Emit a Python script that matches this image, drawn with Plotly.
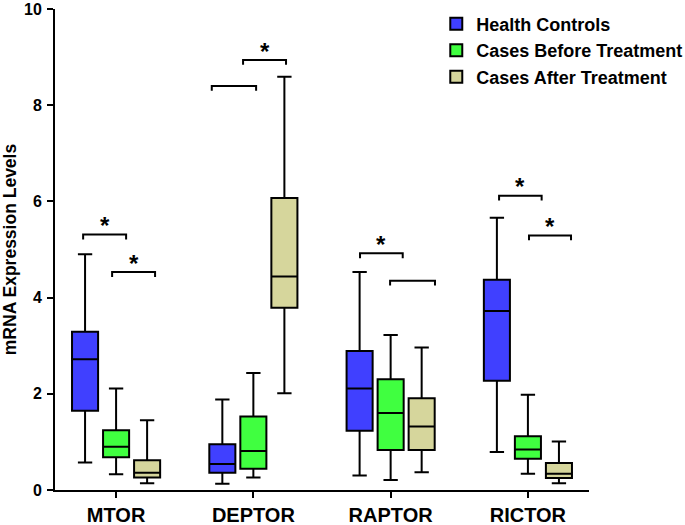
import plotly.graph_objects as go

categories = ["MTOR", "DEPTOR", "RAPTOR", "RICTOR"]
groups = ["Health Controls", "Cases Before Treatment", "Cases After Treatment"]

# per group: lower whisker, Q1, median, Q3, upper whisker (one value per category)
hc_low = [0.57, 0.13, 0.30, 0.79]
hc_q1 = [1.65, 0.36, 1.23, 2.27]
hc_med = [2.72, 0.54, 2.11, 3.72]
hc_q3 = [3.29, 0.95, 2.89, 4.37]
hc_high = [4.90, 1.88, 4.53, 5.66]

bt_low = [0.33, 0.26, 0.21, 0.34]
bt_q1 = [0.68, 0.44, 0.83, 0.65]
bt_med = [0.90, 0.81, 1.60, 0.84]
bt_q3 = [1.24, 1.53, 2.30, 1.12]
bt_high = [2.11, 2.43, 3.22, 1.98]

at_low = [0.14, 2.01, 0.37, 0.14]
at_q1 = [0.26, 3.79, 0.83, 0.25]
at_med = [0.36, 4.44, 1.32, 0.34]
at_q3 = [0.62, 6.07, 1.91, 0.56]
at_high = [1.45, 8.59, 2.96, 1.01]

# significance brackets: (x start, x end, height, label)
brackets = [
    (-0.240, 0.073, 5.31, "*"),
    (-0.029, 0.284, 4.53, "*"),
    (0.697, 1.020, 8.40, ""),
    (0.925, 1.238, 8.94, "*"),
    (1.777, 2.088, 4.92, "*"),
    (1.996, 2.323, 4.35, ""),
    (2.790, 3.100, 6.12, "*"),
    (3.008, 3.314, 5.29, "*"),
]

colors = ["#4040FF", "#40FF40", "#D6D69C"]
FONT = "Liberation Sans, Arial, sans-serif"

stats = [
    (hc_low, hc_q1, hc_med, hc_q3, hc_high),
    (bt_low, bt_q1, bt_med, bt_q3, bt_high),
    (at_low, at_q1, at_med, at_q3, at_high),
]

xpos = list(range(len(categories)))

fig = go.Figure()
for name, col, (lo, q1, med, q3, hi) in zip(groups, colors, stats):
    fig.add_trace(go.Box(
        name=name,
        x=xpos,
        lowerfence=lo, q1=q1, median=med, q3=q3, upperfence=hi,
        fillcolor=col,
        line=dict(color="black", width=2),
        whiskerwidth=0.55,
        boxpoints=False,
        hoverinfo="skip",
    ))

drop = 0.1
for x0, x1, yb, lab in brackets:
    fig.add_shape(
        type="path",
        xref="x", yref="y",
        path=f"M {x0} {yb - drop} L {x0} {yb} L {x1} {yb} L {x1} {yb - drop}",
        line=dict(color="black", width=2),
    )
    if lab:
        fig.add_annotation(
            x=(x0 + x1) / 2, y=yb + 0.18, xref="x", yref="y",
            text=lab, showarrow=False, yanchor="middle",
            font=dict(family=FONT, size=24, color="black", weight="bold"),
        )

fig.update_layout(
    width=685, height=525,
    margin=dict(l=55, r=96, t=9, b=35, autoexpand=False),
    paper_bgcolor="white", plot_bgcolor="white",
    boxmode="group", boxgap=0.322, boxgroupgap=0.16,
    font=dict(family=FONT, color="black"),
    showlegend=True,
    legend=dict(
        x=0.714, y=1.007, xanchor="left", yanchor="top",
        font=dict(family=FONT, size=18, color="black", weight="bold"),
        bgcolor="rgba(0,0,0,0)", traceorder="normal",
    ),
)

fig.update_xaxes(
    range=[-0.445, 3.445], automargin=False,
    tickmode="array", tickvals=xpos, ticktext=categories,
    showline=True, linecolor="black", linewidth=2,
    ticks="outside", ticklen=6, tickwidth=2, tickcolor="black",
    showgrid=False, zeroline=False, ticklabeloverflow="allow",
    tickfont=dict(family=FONT, size=20, color="black", weight="bold"),
)
fig.update_yaxes(
    range=[0, 10], automargin=False,
    tickmode="array", tickvals=[0, 2, 4, 6, 8, 10],
    showline=True, linecolor="black", linewidth=2,
    ticks="outside", ticklen=6, tickwidth=2, tickcolor="black",
    showgrid=False, zeroline=False, ticklabelstandoff=2,
    ticklabeloverflow="allow",
    tickfont=dict(family=FONT, size=16, color="black", weight="bold"),
    title=dict(text="mRNA Expression Levels", standoff=8,
               font=dict(family=FONT, size=17.5, color="black", weight="bold")),
)

fig.write_html(
    "out.html",
    config={"displayModeBar": False},
    post_script="document.body.style.margin='0px';document.body.style.overflow='hidden';",
)
